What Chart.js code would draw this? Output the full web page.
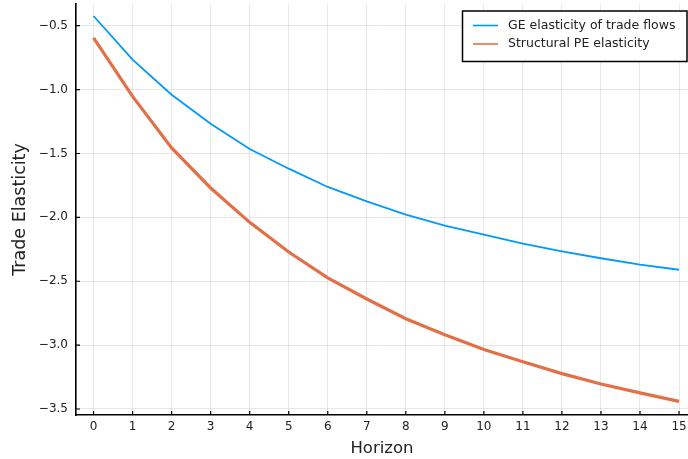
<!DOCTYPE html>
<html>
<head>
<meta charset="utf-8">
<script src="https://cdn.jsdelivr.net/npm/chart.js@4.4.1/dist/chart.umd.min.js"></script>
<style>
  html, body { margin: 0; padding: 0; background: #fff; }
  #wrap { width: 688px; height: 459px; position: relative; }
</style>
</head>
<body>
<div id="wrap"><canvas id="elasticityChart"></canvas></div>
<script>
const horizons = [0, 1, 2, 3, 4, 5, 6, 7, 8, 9, 10, 11, 12, 13, 14, 15];
const geElasticity = [-0.424, -0.766, -1.04, -1.267, -1.465, -1.619, -1.762, -1.875, -1.979, -2.065, -2.135, -2.206, -2.266, -2.32, -2.37, -2.41];
const peElasticity = [-0.596, -1.053, -1.457, -1.77, -2.039, -2.271, -2.474, -2.639, -2.793, -2.918, -3.035, -3.13, -3.223, -3.304, -3.374, -3.44];
const xTicks = [0, 1, 2, 3, 4, 5, 6, 7, 8, 9, 10, 11, 12, 13, 14, 15];
const yTicks = [-3.5, -3.0, -2.5, -2.0, -1.5, -1.0, -0.5];
const seriesNames = ['GE elasticity of trade flows', 'Structural PE elasticity'];

const FONT = '"DejaVu Sans", sans-serif';
const fmtMinus = s => String(s).replace('-', '\u2212');

// small inward tick marks + framed legend, drawn the way GR does it
const extrasPlugin = {
    id: 'extras',
    afterDraw(chart) {
        const { ctx, chartArea } = chart;
        const xs = chart.scales.x, ys = chart.scales.y;
        ctx.save();
        ctx.strokeStyle = '#000';
        ctx.lineWidth = 1.2;
        ctx.beginPath();
        xTicks.forEach(v => {
            const px = xs.getPixelForValue(v);
            ctx.moveTo(px, chartArea.bottom);
            ctx.lineTo(px, chartArea.bottom - 4);
        });
        yTicks.forEach(v => {
            const py = ys.getPixelForValue(v);
            ctx.moveTo(chartArea.left, py);
            ctx.lineTo(chartArea.left + 4, py);
        });
        ctx.stroke();

        // legend
        const bx = 462.5, by = 11, bw = 224.5, bh = 50.5;
        ctx.fillStyle = '#fff';
        ctx.fillRect(bx, by, bw, bh);
        ctx.lineWidth = 1.5;
        ctx.strokeStyle = '#000';
        ctx.strokeRect(bx, by, bw, bh);
        ctx.font = '12.5px ' + FONT;
        ctx.textBaseline = 'middle';
        ctx.textAlign = 'left';
        chart.data.datasets.forEach((ds, i) => {
            const ly = 25.5 + i * 18.5;
            ctx.strokeStyle = ds.borderColor;
            ctx.lineWidth = 1.6;
            ctx.beginPath();
            ctx.moveTo(473, ly);
            ctx.lineTo(498, ly);
            ctx.stroke();
            ctx.fillStyle = '#222';
            ctx.fillText(ds.label, 508, ly);
        });
        ctx.restore();
    }
};

new Chart(document.getElementById('elasticityChart'), {
    type: 'line',
    data: {
        labels: horizons,
        datasets: [
            { label: seriesNames[0], data: horizons.map((h, i) => ({ x: h, y: geElasticity[i] })),
              borderColor: '#009AFA', borderWidth: 1.8, pointRadius: 0, tension: 0, fill: false },
            { label: seriesNames[1], data: horizons.map((h, i) => ({ x: h, y: peElasticity[i] })),
              borderColor: '#E36F47', borderWidth: 3.2, pointRadius: 0, tension: 0, fill: false }
        ]
    },
    options: {
        responsive: true,
        maintainAspectRatio: false,
        animation: false,
        layout: { padding: { top: 4, right: 0, left: 0, bottom: 0 } },
        plugins: { legend: { display: false }, tooltip: { enabled: false } },
        scales: {
            x: {
                type: 'linear',
                min: -0.45, max: 15.23,
                afterBuildTicks: s => { s.ticks = xTicks.map(v => ({ value: v })); },
                afterFit: s => { s.height = 44; s.paddingLeft = 0; s.paddingRight = 0; },
                ticks: { padding: 5, color: '#222', font: { family: FONT, size: 12 }, maxRotation: 0 },
                grid: { color: 'rgba(0,0,0,0.09)', lineWidth: 1, drawTicks: false },
                border: { display: true, color: '#000', width: 1.6 },
                title: { display: true, text: 'Horizon', color: '#222',
                         font: { family: FONT, size: 16.5 }, padding: { top: 0, bottom: 0 } }
            },
            y: {
                min: -3.547, max: -0.33,
                afterBuildTicks: s => { s.ticks = yTicks.map(v => ({ value: v })); },
                afterFit: s => { s.width = 76; s.paddingTop = 0; s.paddingBottom = 0; },
                ticks: { padding: 8, color: '#222', font: { family: FONT, size: 12 },
                         callback: v => fmtMinus(v.toFixed(1)) },
                grid: { color: 'rgba(0,0,0,0.09)', lineWidth: 1, drawTicks: false },
                border: { display: true, color: '#000', width: 1.6 },
                title: { display: true, text: 'Trade Elasticity', color: '#222',
                         font: { family: FONT, size: 17.5 }, padding: { top: 10, bottom: 0 } }
            }
        }
    },
    plugins: [extrasPlugin]
});
</script>
</body>
</html>
